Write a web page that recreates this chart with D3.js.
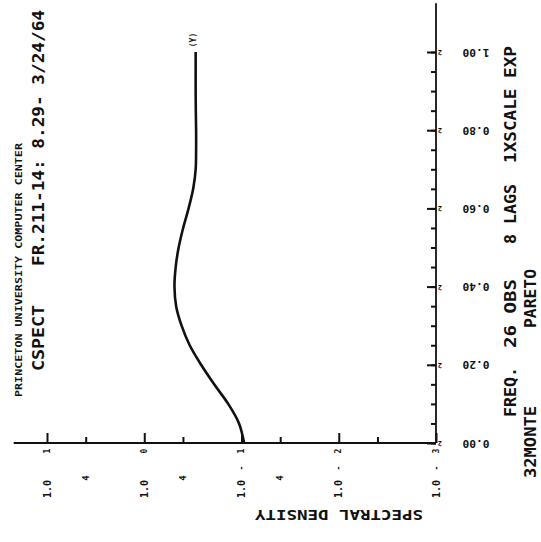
<!DOCTYPE html>
<html>
<head>
<meta charset="utf-8">
<script src="https://cdn.jsdelivr.net/npm/d3@7"></script>
<style>
  html, body { margin: 0; padding: 0; background: #fff; }
  svg { display: block; }
  text { font-family: "DejaVu Sans Mono", monospace; font-weight: bold; fill: #111; }
</style>
</head>
<body>
<script>
// Spectrum estimate: frequency (cycles per unit, 0..1) vs spectral density (log scale)
const frequency = [0.00, 0.05, 0.10, 0.15, 0.20, 0.25, 0.30, 0.35, 0.40, 0.45, 0.50,
                   0.55, 0.60, 0.65, 0.70, 0.75, 0.80, 0.85, 0.90, 0.95, 1.00];
const density   = [0.094, 0.106, 0.137, 0.191, 0.260, 0.341, 0.413, 0.470, 0.489, 0.475, 0.443,
                   0.398, 0.350, 0.314, 0.296, 0.293, 0.293, 0.295, 0.296, 0.296, 0.296];

const freqMajorTicks = [0.0, 0.2, 0.4, 0.6, 0.8, 1.0];
const freqTickLabels = ["0.00", "0.20", "0.40", "0.60", "0.80", "1.00"];
const freqMinorTicks = d3.range(0, 21).map(i => i * 0.05);
const densityDecades = [1e1, 1e0, 1e-1, 1e-2, 1e-3];
const decadeExponents = ["1", "0", "-1", "-2", "-3"];
const densityMinorTicks = [4e0, 4e-1, 4e-2, 4e-3];
const minorLabelTicks = [4e0, 4e-1, 4e-2];
const mantissaLabel = "1.0";

const W = 541, H = 542;
const svg = d3.select("body").append("svg").attr("width", W).attr("height", H);

// Page is laid out turned a quarter: frequency runs up the page, density grows to the left.
const fY = d3.scaleLinear().domain([0, 1]).range([443, 52]);
const dX = d3.scaleLog().domain([1e-3, 1e1]).range([436, 47]);

const axisX = dX(1e-3);
const axisY = fY(0);

// frequency axis (vertical line with ticks pointing into the plot)
const fAxisMajor = d3.axisLeft(fY).tickValues(freqMajorTicks).tickSize(9).tickFormat("");
const fAxisMinor = d3.axisLeft(fY).tickValues(freqMinorTicks).tickSize(5).tickFormat("");
const gf = svg.append("g").attr("transform", `translate(${axisX},0)`);
gf.append("g").call(fAxisMinor);
gf.append("g").call(fAxisMajor);
gf.selectAll(".domain").remove();
gf.selectAll("line").attr("stroke", "#111").attr("stroke-width", 2);
svg.append("line")
  .attr("x1", axisX).attr("x2", axisX)
  .attr("y1", axisY).attr("y2", fY(1.125))
  .attr("stroke", "#111").attr("stroke-width", 1.8);

// density axis (horizontal line with ticks pointing up)
const dAxisMajor = d3.axisTop(dX).tickValues(densityDecades).tickSize(10).tickFormat("");
const dAxisMinor = d3.axisTop(dX).tickValues(densityMinorTicks).tickSize(6).tickFormat("");
const gd = svg.append("g").attr("transform", `translate(0,${axisY})`);
gd.append("g").call(dAxisMinor);
gd.append("g").call(dAxisMajor);
gd.selectAll(".domain").remove();
gd.selectAll("line").attr("stroke", "#111").attr("stroke-width", 2);
svg.append("line")
  .attr("x1", axisX).attr("x2", dX(22))
  .attr("y1", axisY).attr("y2", axisY)
  .attr("stroke", "#111").attr("stroke-width", 1.8);

// frequency tick labels (turned upside down) and the small marks beside the major ticks
freqMajorTicks.forEach((f, i) => {
  svg.append("text")
    .attr("transform", `translate(476,${fY(f)}) rotate(180)`)
    .attr("text-anchor", "middle").attr("dominant-baseline", "central")
    .attr("font-size", 10).attr("textLength", 27).attr("lengthAdjust", "spacingAndGlyphs")
    .text(freqTickLabels[i]);
  svg.append("text")
    .attr("transform", `translate(440,${fY(f)}) rotate(180)`)
    .attr("text-anchor", "middle").attr("dominant-baseline", "central")
    .attr("font-size", 7)
    .text("2");
});

// density decade labels: "1.0" mantissa, then sign and exponent nearer the axis
densityDecades.forEach((v, i) => {
  const x = dX(v);
  const e = decadeExponents[i];
  const neg = e.startsWith("-");
  const digit = neg ? e.slice(1) : e;
  const rot = (y, s, size) => svg.append("text")
    .attr("transform", `translate(${x},${y}) rotate(-90)`)
    .attr("text-anchor", "middle").attr("dominant-baseline", "central")
    .attr("font-size", size).text(s);
  rot(489, mantissaLabel, 10);
  rot(451, digit, 8);
  if (neg) rot(468, "-", 8);
});
minorLabelTicks.forEach(v => {
  svg.append("text")
    .attr("transform", `translate(${dX(v)},478) rotate(-90)`)
    .attr("text-anchor", "middle").attr("dominant-baseline", "central")
    .attr("font-size", 9).text("4");
});

// spectrum curve
const line = d3.line()
  .x((d, i) => dX(density[i]))
  .y((d, i) => fY(frequency[i]))
  .curve(d3.curveCatmullRom);
svg.append("path")
  .datum(frequency)
  .attr("d", line)
  .attr("fill", "none").attr("stroke", "#111").attr("stroke-width", 2.6);

svg.append("text")
  .attr("transform", `translate(${dX(density[density.length - 1]) - 2},40) rotate(-90)`)
  .attr("text-anchor", "middle").attr("dominant-baseline", "central")
  .attr("font-size", 8).text("(Y)");

// header and footer text, written along the page
function vtext(x, yStart, yEnd, size, s) {
  svg.append("text")
    .attr("transform", `translate(${x},${yStart}) rotate(-90)`)
    .attr("text-anchor", "start").attr("dominant-baseline", "central")
    .attr("font-size", size)
    .attr("textLength", yStart - yEnd).attr("lengthAdjust", "spacingAndGlyphs")
    .text(s);
}
vtext(19, 397, 143, 9, "PRINCETON UNIVERSITY COMPUTER CENTER");
vtext(38, 371, 305, 16, "CSPECT");
vtext(38, 266, 10, 16, "FR.211-14: 8.29- 3/24/64");

vtext(510, 417, 367, 16, "FREQ.");
vtext(510, 348, 279, 16, "26 OBS");
vtext(510, 244, 184, 16, "8 LAGS");
vtext(510, 163, 46, 16, "1XSCALE EXP");
vtext(530, 478, 406, 16, "32MONTE");
vtext(530, 328, 269, 16, "PARETO");

// axis title, upside down under the density axis
svg.append("text")
  .attr("transform", `translate(423,515) rotate(180)`)
  .attr("text-anchor", "start").attr("dominant-baseline", "central")
  .attr("font-size", 14)
  .attr("textLength", 168).attr("lengthAdjust", "spacingAndGlyphs")
  .text("SPECTRAL DENSITY");
</script>
</body>
</html>
